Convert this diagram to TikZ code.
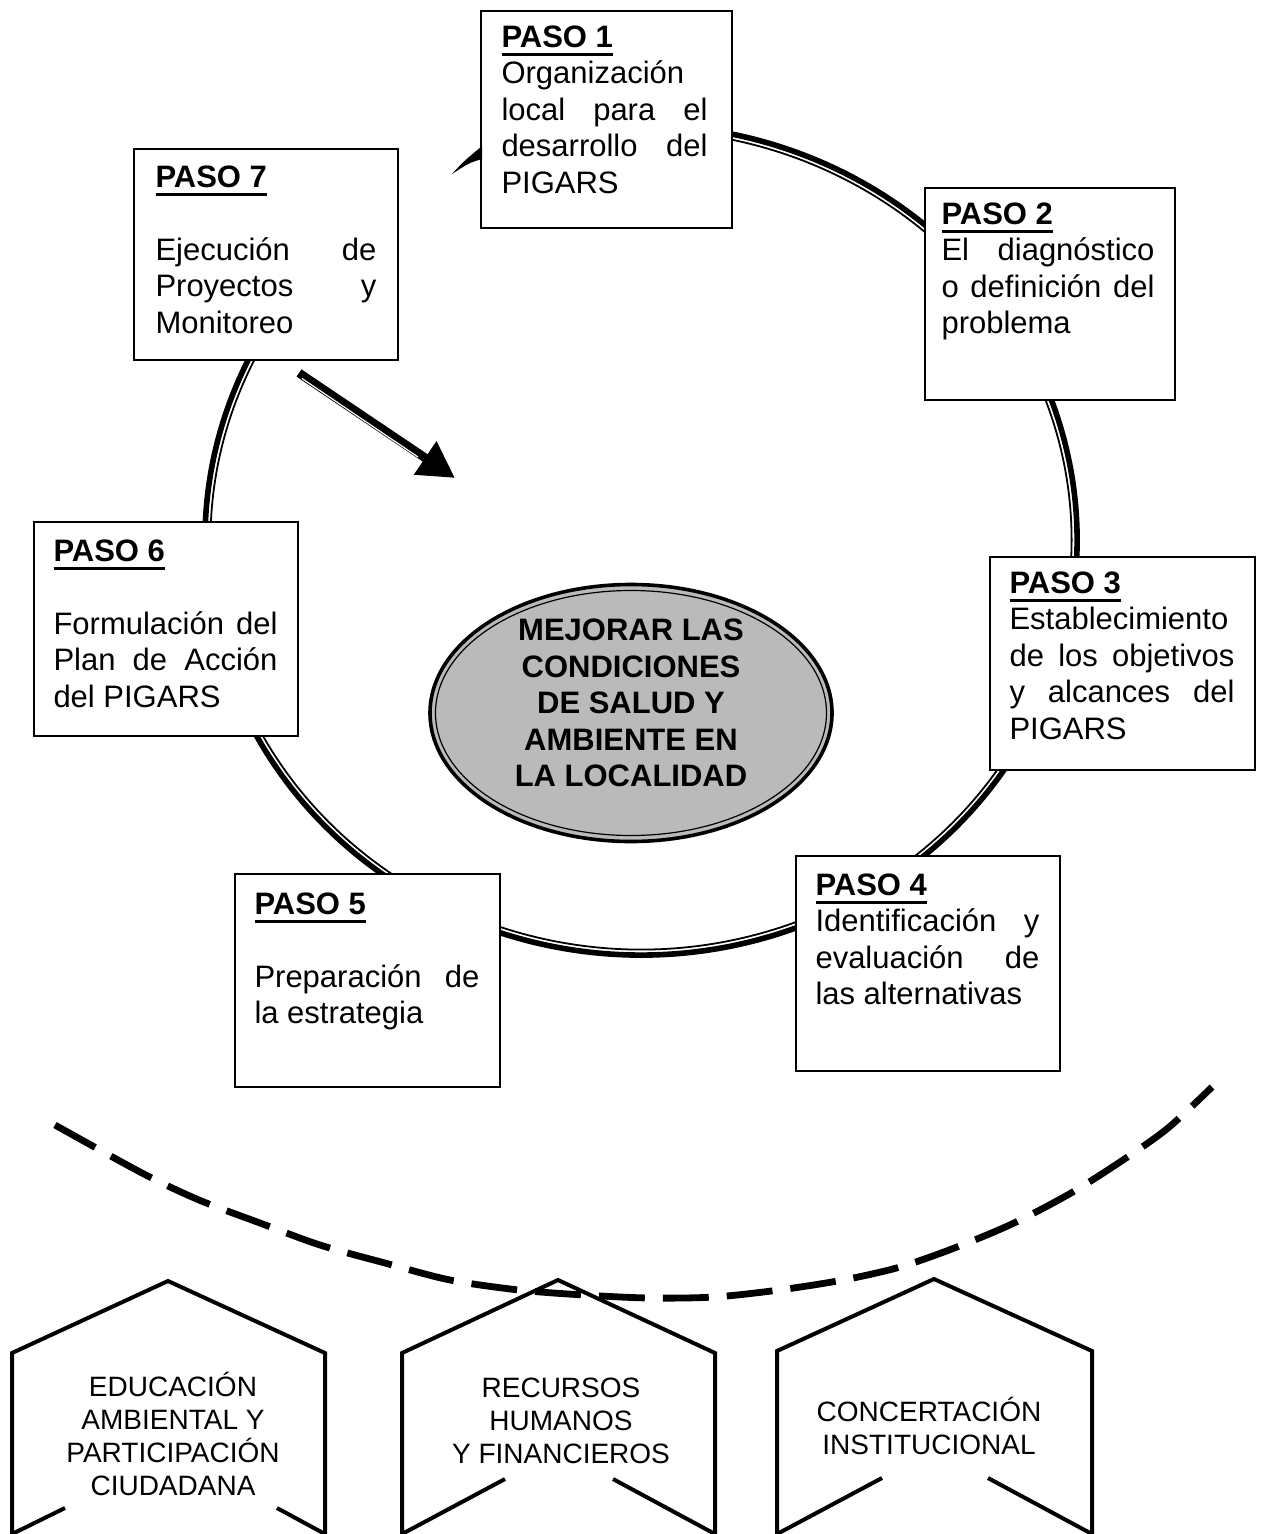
\documentclass[tikz,border=0pt]{standalone}
\usepackage{fontspec}
\setmainfont{Liberation Sans}
\usetikzlibrary{arrows.meta,shapes.geometric,fit}

\newcommand\pasolbl[1]{\setbox0\hbox{\bfseries #1}\rlap{\rule[-4.2pt]{\wd0}{1.3pt}}\box0}
\newcommand\jlin[1]{\hbox to\hsize{#1}}
\newcommand\plin[1]{\hbox{#1}}
\newcommand\blin{\hbox{}}
\newcommand\ptxt[2]{\vtop{\hsize=#1\relax #2}}

\begin{document}
\begin{tikzpicture}[x=0.5pt,y=-0.5pt,
  pbox/.style={draw, line width=0.9pt, fill=white, inner sep=0pt},
  ptext/.style={anchor=north west, inner sep=0pt, font=\fontsize{15.5}{18.25}\selectfont},
  goal/.style={ellipse, draw, line width=1.8pt, fill=black!27, minimum width=201pt, minimum height=128.5pt, inner sep=0pt},
  goaltxt/.style={align=center, inner sep=0pt, font=\fontsize{15.5}{18.25}\selectfont\bfseries},
  btxt/.style={align=center, inner sep=0pt, font=\fontsize{14}{16.5}\selectfont},
  chevron/.style={line width=2pt, line join=miter},
  ringout/.style={line width=2.8pt},
  ringin/.style={line width=0.9pt},
  dashcurve/.style={line width=3.4pt, dash pattern=on 23pt off 9pt},
  bigarrow/.style={line width=4.4pt, -{Triangle[length=18pt,width=19pt]}}
]
\useasboundingbox (0,0) rectangle (1265,1534);

% cycle ring
\coordinate (rc) at (641,540);
\draw[ringout] (rc) ++(248.5:436 and 415) arc[start angle=248.5, end angle=594.5, x radius=436, y radius=415];
\draw[ringin] (rc) ++(248.5:430.5 and 409.5) arc[start angle=248.5, end angle=594.5, x radius=430.5, y radius=409.5];

% central goal
\node[goal] (g) at (631,713) {};
\draw[line width=0.6pt] (g.center) ellipse [x radius=195.5, y radius=122.5];
\node[goaltxt] (gt) at (631,703) {MEJORAR LAS\\CONDICIONES\\DE SALUD Y\\AMBIENTE EN\\LA LOCALIDAD};

% big arrow
\coordinate (as) at (299,373);
\coordinate (ae) at (455,478);
\draw[bigarrow] (as) -- (ae);
\draw[white, line width=0.6pt] (302,378.5) -- (418,457);

% step boxes
\node[pbox, fit={(481,11) (732,228)}] (p1) {};
\node[pbox, fit={(925,188) (1175,400)}] (p2) {};
\node[pbox, fit={(990,557) (1255,770)}] (p3) {};
\node[pbox, fit={(796,856) (1060,1071)}] (p4) {};
\node[pbox, fit={(235,874) (500,1087)}] (p5) {};
\node[pbox, fit={(34,522) (298,736)}] (p6) {};
\node[pbox, fit={(134,149) (398,360)}] (p7) {};

% arrow tip of ring at step 1
\fill (452,174) .. controls (463,162) .. (482,146) -- (482,159) .. controls (469,163) .. (452,174) -- cycle;

\node[ptext] (t1) at ([shift={(21,15)}]p1.north west) {\ptxt{103pt}{\plin{\pasolbl{PASO 1}}\plin{Organización}\jlin{local para el}\jlin{desarrollo del}\plin{PIGARS}}};
\node[ptext] (t2) at ([shift={(17,15)}]p2.north west) {\ptxt{106.5pt}{\plin{\pasolbl{PASO 2}}\jlin{El diagnóstico}\jlin{o definición del}\plin{problema}}};
\node[ptext] (t3) at ([shift={(20,15)}]p3.north west) {\ptxt{112.5pt}{\plin{\pasolbl{PASO 3}}\plin{Establecimiento}\jlin{de los objetivos}\jlin{y alcances del}\plin{PIGARS}}};
\node[ptext] (t4) at ([shift={(20,18)}]p4.north west) {\ptxt{112pt}{\plin{\pasolbl{PASO 4}}\jlin{Identificación y}\jlin{evaluación de}\plin{las alternativas}}};
\node[ptext] (t5) at ([shift={(20,19)}]p5.north west) {\ptxt{112.5pt}{\plin{\pasolbl{PASO 5}}\blin\jlin{Preparación de}\plin{la estrategia}}};
\node[ptext] (t6) at ([shift={(20,18)}]p6.north west) {\ptxt{112pt}{\plin{\pasolbl{PASO 6}}\blin\jlin{Formulación del}\jlin{Plan de Acción}\plin{del PIGARS}}};
\node[ptext] (t7) at ([shift={(22,17)}]p7.north west) {\ptxt{110.5pt}{\plin{\pasolbl{PASO 7}}\blin\jlin{Ejecución de}\jlin{Proyectos y}\plin{Monitoreo}}};

% dashed arc
\draw[dashcurve] plot[smooth] coordinates {(55,1125) (142,1173) (199,1200) (260,1223) (320,1245) (385,1263) (450,1280) (519,1290) (584,1295) (649,1298) (714,1297) (779,1290) (843,1280) (900,1267) (957,1247) (1014,1223) (1071,1193) (1123,1160) (1168,1128) (1212,1087)};

% bottom chevrons
\draw[chevron] (65,1508) -- (12,1534) -- (12,1353) -- (168,1281) -- (325,1353) -- (325,1534) -- (277,1508);
\draw[chevron] (505,1479) -- (402,1534) -- (402,1353) -- (558,1280) -- (715,1353) -- (715,1534) -- (613,1479);
\draw[chevron] (882,1478) -- (777,1534) -- (777,1351) -- (934,1279) -- (1092,1351) -- (1092,1534) -- (988,1478);

\node[btxt] (b1) at (173,1434) {EDUCACIÓN\\AMBIENTAL Y\\PARTICIPACIÓN\\CIUDADANA};
\node[btxt] (b2) at (561,1421) {RECURSOS\\HUMANOS\\Y FINANCIEROS};
\node[btxt] (b3) at (929,1426) {CONCERTACIÓN\\INSTITUCIONAL};
\end{tikzpicture}
\end{document}
